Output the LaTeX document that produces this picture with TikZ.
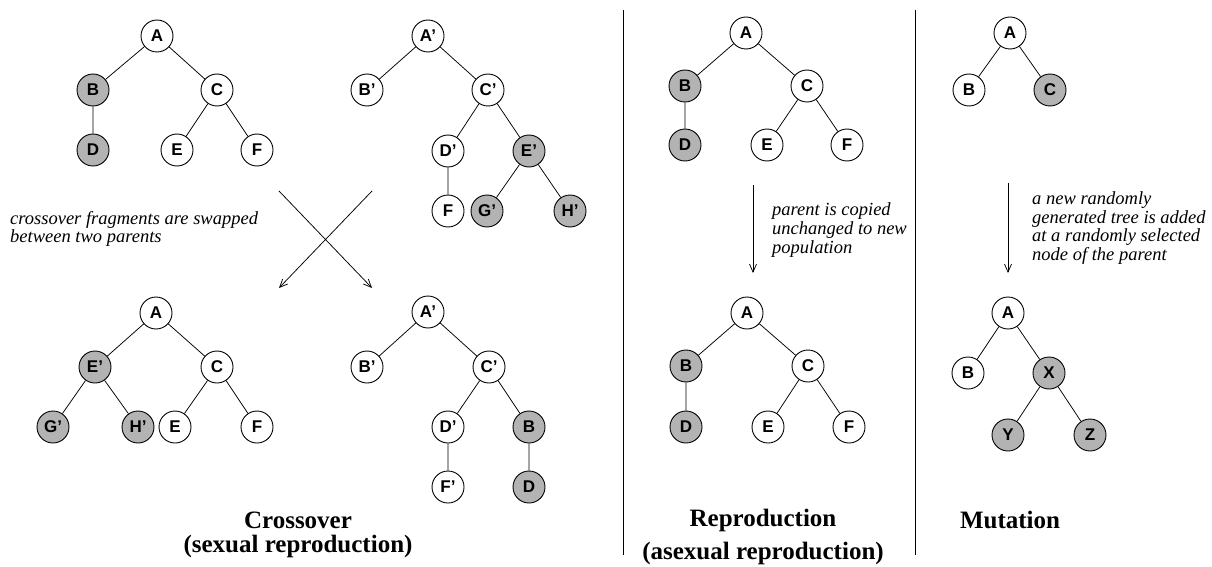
\documentclass[tikz,border=0pt]{standalone}
\usepackage{fontspec}
\setmainfont{Liberation Serif}
\newfontfamily\labelfont{Liberation Sans}[BoldFont={Liberation Sans Bold}]
\usetikzlibrary{arrows.meta,positioning}
\definecolor{swapcolor}{RGB}{179,179,179}

\begin{document}
\begin{tikzpicture}[x=1pt, y=-1pt,
    tnode/.style={circle, draw, line width=0.9pt, minimum size=32pt, inner sep=0pt, fill=white, font=\labelfont\bfseries\fontsize{17}{19}\selectfont},
    moved/.style={tnode, fill=swapcolor},
    link/.style={line width=0.75pt},
    arrow/.style={-{Straight Barb[length=8pt,width=7pt]}, line width=0.75pt},
    note/.style={align=left, anchor=west, inner sep=0pt, font=\itshape\fontsize{18.5}{18.7}\selectfont},
    title/.style={inner sep=0pt, font=\bfseries\fontsize{25}{28}\selectfont}
]
\useasboundingbox (0,0) rectangle (1212,567);

% crossover: parents
\node[tnode] (pa) at (157,36) {A};
\node[moved] (pb) at (93,90) {B};
\node[tnode] (pc) at (217,90) {C};
\node[moved] (pd) at (93,150) {D};
\node[tnode] (pe) at (177,150) {E};
\node[tnode] (pf) at (257,150) {F};
\draw[link] (pa) -- (pb) -- (pd) (pa) -- (pc) -- (pe) (pc) -- (pf);

\node[tnode] (qa) at (428,36) {A’};
\node[tnode] (qb) at (367,90) {B’};
\node[tnode] (qc) at (488,90) {C’};
\node[tnode] (qd) at (448,151) {D’};
\node[moved] (qe) at (529,151) {E’};
\node[tnode] (qf) at (448,211) {F};
\node[moved] (qg) at (487,211) {G’};
\node[moved] (qh) at (570,211) {H’};
\draw[link] (qa) -- (qb) (qa) -- (qc) -- (qd) -- (qf) (qc) -- (qe) -- (qg) (qe) -- (qh);

% crossover: offspring
\node[tnode] (ca) at (156,313) {A};
\node[moved] (cb) at (95,367) {E’};
\node[tnode] (cc) at (217,367) {C};
\node[moved] (cd) at (53,427) {G’};
\node[moved] (ce) at (138,427) {H’};
\node[tnode] (cf) at (175,427) {E};
\node[tnode] (cg) at (257,427) {F};
\draw[link] (ca) -- (cb) -- (cd) (cb) -- (ce) (ca) -- (cc) -- (cf) (cc) -- (cg);

\node[tnode] (da) at (428,312) {A’};
\node[tnode] (db) at (367,367) {B’};
\node[tnode] (dc) at (489,367) {C’};
\node[tnode] (dd) at (448,427) {D’};
\node[moved] (de) at (529,427) {B};
\node[tnode] (df) at (448,487) {F’};
\node[moved] (dg) at (529,487) {D};
\draw[link] (da) -- (db) (da) -- (dc) -- (dd) -- (df) (dc) -- (de) -- (dg);

\coordinate (xa) at (279,191);
\coordinate (xb) at (372,288);
\coordinate (xc) at (372,191);
\coordinate (xd) at (279,288);
\draw[arrow] (xa) -- (xb);
\draw[arrow] (xc) -- (xd);
\node[note] (crossnote) at (10,229) {crossover fragments are swapped\\between two parents};

\node[title] (crosstitle) at (298,520) {Crossover};
\node[title] (crosssub) at (298,546) {(sexual reproduction)};

% reproduction
\node[tnode] (ra) at (746,33) {A};
\node[moved] (rb) at (685,86) {B};
\node[tnode] (rc) at (807,86) {C};
\node[moved] (rd) at (685,145) {D};
\node[tnode] (re) at (767,145) {E};
\node[tnode] (rf) at (847,145) {F};
\draw[link] (ra) -- (rb) -- (rd) (ra) -- (rc) -- (re) (rc) -- (rf);

\coordinate (rtop) at (753,185);
\coordinate (rbot) at (753,273);
\draw[arrow] (rtop) -- (rbot);
\node[note] (reponote) at (772,230) {parent is copied\\unchanged to new\\population};

\node[tnode] (sa) at (747,313) {A};
\node[moved] (sb) at (686,366) {B};
\node[tnode] (sc) at (808,366) {C};
\node[moved] (sd) at (686,427) {D};
\node[tnode] (se) at (768,427) {E};
\node[tnode] (sf) at (849,427) {F};
\draw[link] (sa) -- (sb) -- (sd) (sa) -- (sc) -- (se) (sc) -- (sf);

\node[title] (repotitle) at (763,520) {Reproduction};
\node[title] (reposub) at (763,553) {(asexual reproduction)};

% mutation
\node[tnode] (ma) at (1010,33) {A};
\node[tnode] (mb) at (969,90) {B};
\node[moved] (mc) at (1050,90) {C};
\draw[link] (ma) -- (mb) (ma) -- (mc);

\coordinate (mtop) at (1008,183);
\coordinate (mbot) at (1008,273);
\draw[arrow] (mtop) -- (mbot);
\node[note] (mutnote) at (1032,228) {a new randomly\\generated tree is added\\at a randomly selected\\node of the parent};

\node[tnode] (na) at (1008,313) {A};
\node[tnode] (nb) at (968,373) {B};
\node[moved] (nc) at (1049,373) {X};
\node[moved] (nd) at (1008,435) {Y};
\node[moved] (ne) at (1090,435) {Z};
\draw[link] (na) -- (nb) (na) -- (nc) -- (nd) (nc) -- (ne);

\node[title] (muttitle) at (1010,520) {Mutation};

% dividers
\draw[line width=0.9pt] (623,10) -- (623,555);
\draw[line width=0.9pt] (915,10) -- (915,555);
\end{tikzpicture}
\end{document}
